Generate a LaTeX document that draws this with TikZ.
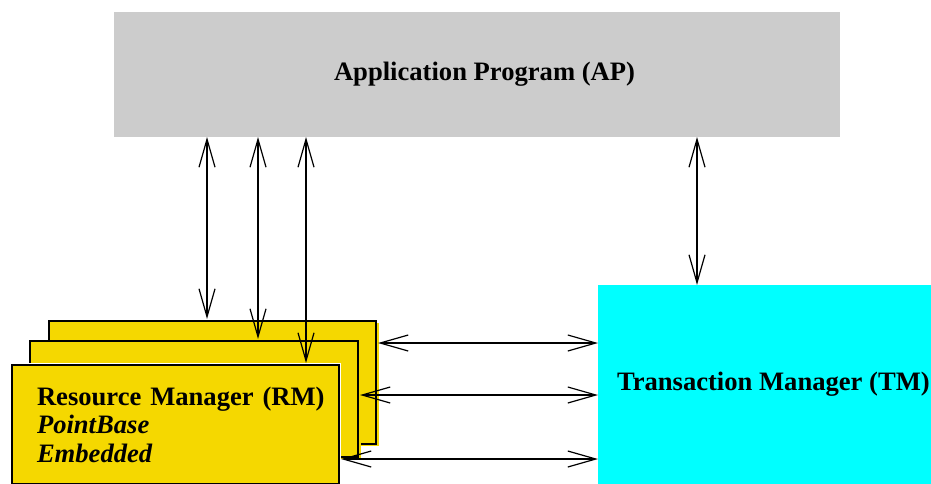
\documentclass[tikz,border=0pt]{standalone}
\usepackage{fontspec}
\setmainfont{Liberation Serif}
\usetikzlibrary{arrows.meta,positioning}
\definecolor{apgray}{RGB}{204,204,204}
\definecolor{rmyellow}{RGB}{245,216,0}
\definecolor{tmcyan}{RGB}{0,255,255}

\begin{document}
\begin{tikzpicture}[x=1pt,y=-1pt,
  box/.style={inner sep=0pt,outer sep=0pt,anchor=north west},
  rmbox/.style={box,fill=rmyellow,draw=black,line width=1.3pt,outer sep=2pt,minimum width=327pt},
  shade/.style={preaction={fill=rmyellow,transform canvas={shift={(2.5pt,-2pt)}}}},
  halo/.style={preaction={draw=white,line width=4.5pt}},
  lbl/.style={font=\bfseries\fontsize{26.6}{28.5}\selectfont},
  dbl/.style={{Straight Barb[length=28pt,width=16pt]}-{Straight Barb[length=28pt,width=16pt]},line width=1.2pt}]
  \useasboundingbox (0,0) rectangle (931,484);
  \clip (0,0) rectangle (931,484);

  % application program
  \node[box,fill=apgray,lbl,minimum width=726pt,minimum height=125pt] (ap) at (114,12)
    {\hspace*{15pt}Application Program (AP)};

  % transaction manager
  \node[box,fill=tmcyan,lbl,inner xsep=19pt,minimum width=333pt,minimum height=199pt] (tm) at (598,285)
    {Transaction Manager (TM)};

  % resource managers (stack)
  \node[rmbox,shade,minimum height=123pt] (rm3) at (47,319) {};
  \node[rmbox,shade,minimum width=328pt,minimum height=116pt] (rm2) at (28,339) {};
  \node[rmbox,halo,lbl,align=left,inner xsep=25pt,text width=277pt,minimum height=119pt] (rm1) at (10,363)
    {\mbox{Resource Manager (RM)}\\ \textit{PointBase}\\ \textit{Embedded}};

  % AP <-> RM
  \draw[dbl] (ap.south -| 207,0) -- (rm3.north -| 207,0);
  \draw[dbl] (ap.south -| 258,0) -- (rm2.north -| 258,0);
  \draw[dbl] (ap.south -| 306,0) -- (rm1.north -| 306,0);

  % AP <-> TM
  \draw[dbl] (ap.south -| 697,0) -- (tm.north -| 697,0);

  % RM <-> TM
  \draw[dbl] (rm3.east |- 0,343) -- (tm.west |- 0,343);
  \draw[dbl] (rm2.east |- 0,395) -- (tm.west |- 0,395);
  \draw[dbl] (rm1.east |- 0,459) -- (tm.west |- 0,459);
\end{tikzpicture}
\end{document}
